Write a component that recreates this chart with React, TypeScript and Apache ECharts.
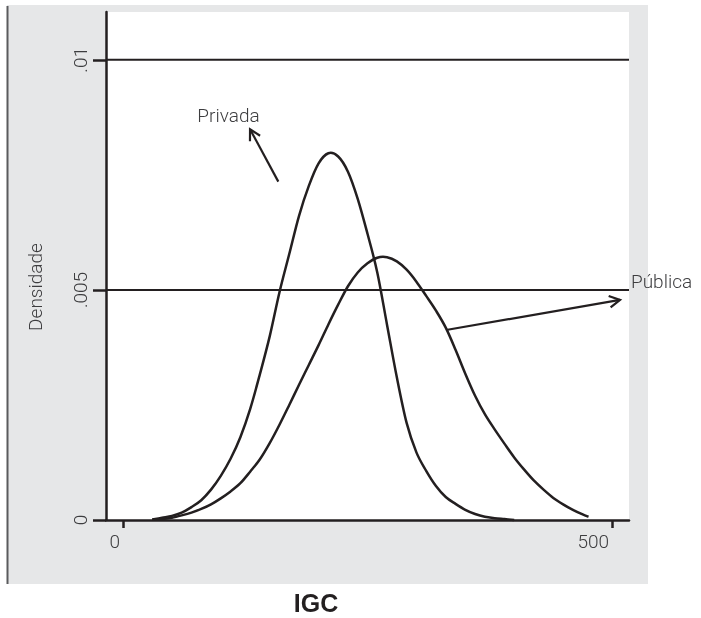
import React, { useEffect, useRef } from "react";
import * as echarts from "echarts";

// IGC values and kernel density estimates
const privadaX = [30, 40, 50, 60, 70, 80, 90, 100, 110, 120, 130, 140, 150, 160, 170, 180, 190, 200, 210, 220, 230, 240, 250, 260, 270, 280, 290, 300, 310, 320, 330, 340, 350, 360, 370, 380, 390, 400];
const privadaY = [0.00001, 0.00005, 0.00009, 0.00016, 0.00028, 0.00043, 0.00066, 0.00096, 0.00133, 0.0018, 0.00241, 0.00317, 0.00399, 0.00495, 0.00578, 0.00661, 0.00726, 0.00775, 0.00797, 0.0079, 0.00757, 0.00698, 0.00622, 0.00538, 0.00424, 0.0031, 0.00211, 0.00147, 0.00107, 0.00074, 0.0005, 0.00035, 0.00022, 0.00013, 0.00007, 0.00004, 0.00002, 0.0];

const publicaX = [30, 40, 50, 60, 70, 80, 90, 100, 110, 120, 130, 140, 150, 160, 170, 180, 190, 200, 210, 220, 230, 240, 250, 260, 270, 280, 290, 300, 310, 320, 330, 340, 350, 360, 370, 380, 390, 400, 410, 420, 430, 440, 450, 460, 470, 476];
const publicaY = [0.00001, 0.00002, 0.00005, 0.0001, 0.00016, 0.00024, 0.00034, 0.00047, 0.00062, 0.0008, 0.00105, 0.00132, 0.00167, 0.00207, 0.0025, 0.00294, 0.00337, 0.0038, 0.00425, 0.00468, 0.00508, 0.00538, 0.00558, 0.0057, 0.00571, 0.00562, 0.00544, 0.00518, 0.00487, 0.00455, 0.00418, 0.0037, 0.00318, 0.0027, 0.0023, 0.00197, 0.00166, 0.00136, 0.0011, 0.00086, 0.00066, 0.00048, 0.00034, 0.00022, 0.00012, 0.00007];

const xTicks = [0, 500];
const yTicks = [0, 0.005, 0.01];
const yTickLabels = ["0", ".005", ".01"];
const yGridValues = [0.005, 0.01];

const xName = "IGC";
const yName = "Densidade";

// annotations (data coordinates)
const annotationNames = ["Privada", "Pública"];
const arrowTails = [[158.8, 0.007354], [330.4, 0.00413]];
const arrowTips = [[129.9, 0.008493], [508.2, 0.004783]];
const labelAnchors = [[107.9, 0.008783], [519.4, 0.005174]];

const X_MIN = -17.38;
const X_MAX = 517.38;
const Y_MAX = 0.01104;

const INK = "#231f20";
const TEXT = "#3d3d3f";
const FONT = "Roboto, 'Liberation Sans', sans-serif";

function splinePath(pts: number[][]): string {
  if (pts.length < 2) return "";
  let d = `M${pts[0][0]},${pts[0][1]}`;
  for (let i = 0; i < pts.length - 1; i++) {
    const p0 = pts[Math.max(0, i - 1)];
    const p1 = pts[i];
    const p2 = pts[i + 1];
    const p3 = pts[Math.min(pts.length - 1, i + 2)];
    const c1x = p1[0] + (p2[0] - p0[0]) / 6;
    const c1y = p1[1] + (p2[1] - p0[1]) / 6;
    const c2x = p2[0] - (p3[0] - p1[0]) / 6;
    const c2y = p2[1] - (p3[1] - p1[1]) / 6;
    d += ` C${c1x},${c1y} ${c2x},${c2y} ${p2[0]},${p2[1]}`;
  }
  return d;
}

function curveSeries(name: string, xs: number[], ys: number[]) {
  return {
    name,
    type: "custom",
    coordinateSystem: "cartesian2d",
    data: xs.map((x, i) => [x, ys[i]]),
    encode: { x: 0, y: 1 },
    clip: false,
    silent: true,
    z: 3,
    renderItem: (params: any, api: any) => {
      if (params.dataIndex !== 0) return null;
      const pts = xs.map((x, i) => api.coord([x, ys[i]]));
      return {
        type: "path",
        shape: { pathData: splinePath(pts) },
        style: { fill: "none", stroke: INK, lineWidth: 2.5 },
      };
    },
  };
}

export default function App() {
  const ref = useRef<HTMLDivElement>(null);

  useEffect(() => {
    if (!ref.current) return;
    const chart = echarts.init(ref.current, null, { renderer: "svg" });

    const option: any = {
      animation: false,
      grid: {
        left: 106,
        top: 12,
        right: 72,
        bottom: 98,
        show: true,
        backgroundColor: "#ffffff",
        borderWidth: 0,
      },
      xAxis: {
        type: "value",
        min: X_MIN,
        max: X_MAX,
        axisLine: { show: true, onZero: false, lineStyle: { color: INK, width: 2.5 } },
        axisTick: { show: true, customValues: xTicks, length: 8, lineStyle: { color: INK, width: 2.5 } },
        axisLabel: {
          customValues: xTicks,
          align: "right",
          margin: 12,
          fontSize: 19,
          fontFamily: FONT,
          fontWeight: 300,
          color: TEXT,
          padding: [0, 3, 0, 0],
          formatter: (v: number) => String(v),
        },
        splitLine: { show: false },
      },
      yAxis: {
        type: "value",
        min: 0,
        max: Y_MAX,
        axisLine: { show: true, onZero: false, lineStyle: { color: INK, width: 2.5 } },
        axisTick: { show: true, customValues: yTicks, length: 13, lineStyle: { color: INK, width: 2.5 } },
        axisLabel: {
          customValues: yTicks,
          rotate: 90,
          margin: 16,
          fontSize: 19,
          fontFamily: FONT,
          fontWeight: 300,
          color: TEXT,
          formatter: (v: number) => {
            const i = yTicks.findIndex((t) => Math.abs(t - v) < 1e-9);
            return i >= 0 ? yTickLabels[i] : "";
          },
        },
        splitLine: { show: false },
      },
      series: [
        curveSeries(annotationNames[0], privadaX, privadaY),
        curveSeries(annotationNames[1], publicaX, publicaY),
      ],
    };

    chart.setOption(option);

    const toPx = (p: number[]) => chart.convertToPixel({ gridIndex: 0 }, p) as number[];

    const graphics: any[] = [
      {
        type: "rect",
        z: -10,
        shape: { x: 7, y: 5, width: 641, height: 579 },
        style: { fill: "#e6e7e8" },
        silent: true,
      },
      {
        type: "line",
        z: -9,
        shape: { x1: 7.5, y1: 6, x2: 7.5, y2: 584 },
        style: { stroke: "#5a5b5d", lineWidth: 2 },
        silent: true,
      },
      {
        type: "text",
        x: 35,
        y: 287,
        rotation: Math.PI / 2,
        style: {
          text: yName,
          fontSize: 19,
          fontFamily: FONT,
          fontWeight: 300,
          fill: TEXT,
          align: "center",
          verticalAlign: "middle",
        },
      },
      {
        type: "text",
        x: 316,
        y: 603,
        style: {
          text: xName,
          fontSize: 25,
          fontFamily: "'Liberation Sans', Arial, sans-serif",
          fontWeight: "bold",
          fill: INK,
          align: "center",
          verticalAlign: "middle",
        },
      },
    ];

    yGridValues.forEach((v) => {
      const a = toPx([X_MIN, v]);
      const b = toPx([X_MAX, v]);
      graphics.push({
        type: "line",
        z: 1,
        silent: true,
        shape: { x1: a[0], y1: a[1], x2: b[0], y2: b[1] },
        style: { stroke: INK, lineWidth: 2 },
      });
    });

    annotationNames.forEach((name, i) => {
      const a = toPx(arrowTails[i]);
      const b = toPx(arrowTips[i]);
      const ang = Math.atan2(a[1] - b[1], a[0] - b[0]);
      const wing = 12;
      const spread = 0.5;
      const w1 = [b[0] + wing * Math.cos(ang + spread), b[1] + wing * Math.sin(ang + spread)];
      const w2 = [b[0] + wing * Math.cos(ang - spread), b[1] + wing * Math.sin(ang - spread)];
      graphics.push({
        type: "line",
        z: 5,
        shape: { x1: a[0], y1: a[1], x2: b[0], y2: b[1] },
        style: { stroke: INK, lineWidth: 2.2 },
      });
      graphics.push({
        type: "polyline",
        z: 5,
        shape: { points: [w1, b, w2] },
        style: { stroke: INK, lineWidth: 2.2, fill: null },
      });
      const l = toPx(labelAnchors[i]);
      graphics.push({
        type: "text",
        z: 5,
        x: l[0],
        y: l[1],
        style: {
          text: name,
          fontSize: 19,
          fontFamily: FONT,
          fontWeight: 300,
          fill: TEXT,
          align: i === 0 ? "center" : "left",
          verticalAlign: "middle",
        },
      });
    });

    chart.setOption({ graphic: graphics });

    return () => chart.dispose();
  }, []);

  return (
    <div
      ref={ref}
      style={{ position: "fixed", left: 0, top: 0, width: 701, height: 618 }}
    />
  );
}
